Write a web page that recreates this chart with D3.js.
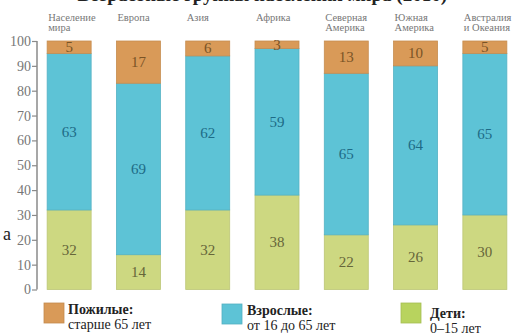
<!DOCTYPE html>
<html><head><meta charset="utf-8">
<script src="https://cdn.jsdelivr.net/npm/d3@7"></script>
</head><body style="margin:0;background:#fff">
<svg id="c" width="526" height="335" style="display:block"></svg>
<script>
const categories = [["Население","мира"],["Европа"],["Азия"],["Африка"],["Северная","Америка"],["Южная","Америка"],["Австралия","и Океания"]];
const elderly  = [5, 17, 6, 3, 13, 10, 5];
const adults   = [63, 69, 62, 59, 65, 64, 65];
const children = [32, 14, 32, 38, 22, 26, 30];
const yTicks = [0,10,20,30,40,50,60,70,80,90,100];
const legendTitles = ["Пожилые:","Взрослые:","Дети:"];
const legendSubs = ["старше 65 лет","от 16 до 65 лет","0–15 лет"];
const title = "Возрастные группы населения мира (2010)";

const colors = {el:"#D99A58", ad:"#5DC3D6", ch:"#CDD881"};
const textCol = {el:"#7a5426", ad:"#1e6b86", ch:"#66663a"};
const legendColors = ["#D99A58","#5DC3D6","#B8D35E"];
const SERIF = '"Liberation Serif"';

const svg = d3.select("#c");

const x = d3.scaleBand().domain(d3.range(categories.length)).range([34.5,519.5]).paddingInner(0.365).paddingOuter(0.1825);
const y = d3.scaleLinear().domain([0,100]).range([289.5,41]);

// title (cut off at top)
svg.append("text").attr("x",447).attr("y",1).attr("text-anchor","end").style("font-family",SERIF)
  .attr("font-weight","bold").attr("font-size",19).attr("fill","#222").text(title);
// stray letter
svg.append("text").attr("x",3).attr("y",240).style("font-family",SERIF).attr("font-size",18).attr("fill","#222").text("а");

// axis
const ax = svg.append("g").attr("transform","translate(37,0)").call(d3.axisLeft(y).tickValues(yTicks).tickSize(5).tickPadding(1));
ax.select(".domain").attr("stroke","#8a8a8a").attr("stroke-width",1.5).attr("d",`M0,${y(100)}V${y(0)}`);
ax.selectAll(".tick line").attr("stroke","#8a8a8a").attr("stroke-width",1.2);
ax.selectAll(".tick text").style("font-family",SERIF).attr("font-size",14).attr("fill","#777");

const rows = categories.map((c,i)=>({i, segs:[
  {k:"ch", y0:0, y1:children[i], v:children[i]},
  {k:"ad", y0:children[i], y1:children[i]+adults[i], v:adults[i]},
  {k:"el", y0:children[i]+adults[i], y1:children[i]+adults[i]+elderly[i], v:elderly[i]}
]}));

const g = svg.selectAll("g.bar").data(rows).join("g").attr("class","bar");
g.selectAll("rect").data(d=>d.segs.map(s=>({...s,i:d.i}))).join("rect")
  .attr("x",d=>x(d.i)).attr("width",x.bandwidth())
  .attr("y",d=>y(d.y1)).attr("height",d=>y(d.y0)-y(d.y1))
  .attr("fill",d=>colors[d.k]).attr("stroke",d=>d3.color(colors[d.k]).darker(0.25)).attr("stroke-width",0.8);
g.selectAll("text").data(d=>d.segs.map(s=>({...s,i:d.i}))).join("text")
  .attr("x",d=>x(d.i)+x.bandwidth()/2).attr("y",d=>(y(d.y0)+y(d.y1))/2+5)
  .attr("text-anchor","middle").style("font-family",SERIF).attr("font-size",15)
  .attr("fill",d=>textCol[d.k]).text(d=>d.v);

// category labels
categories.forEach((c,i)=>{
  c.forEach((line,j)=>{
    svg.append("text").attr("x",x(i)+1).attr("y",21+j*10).style("font-family",SERIF).attr("font-size",10.5)
      .attr("fill","#777").text(line);
  });
});

// legend
const lx = [44,222,401], ly=[303,304,303];
const tx = [68,247,430], tb=[314,315,318];
legendTitles.forEach((t,i)=>{
  svg.append("rect").attr("x",lx[i]).attr("y",ly[i]).attr("width",20).attr("height",20)
    .attr("fill",legendColors[i]).attr("stroke",d3.color(legendColors[i]).darker(0.3)).attr("stroke-width",0.8);
  svg.append("text").attr("x",tx[i]).attr("y",tb[i]).style("font-family",SERIF).attr("font-weight","bold").attr("font-size",14).attr("fill","#222").text(t);
  svg.append("text").attr("x",tx[i]).attr("y",tb[i]+15).style("font-family",SERIF).attr("font-size",14).attr("fill","#222").text(legendSubs[i]);
});
</script>
</body></html>
